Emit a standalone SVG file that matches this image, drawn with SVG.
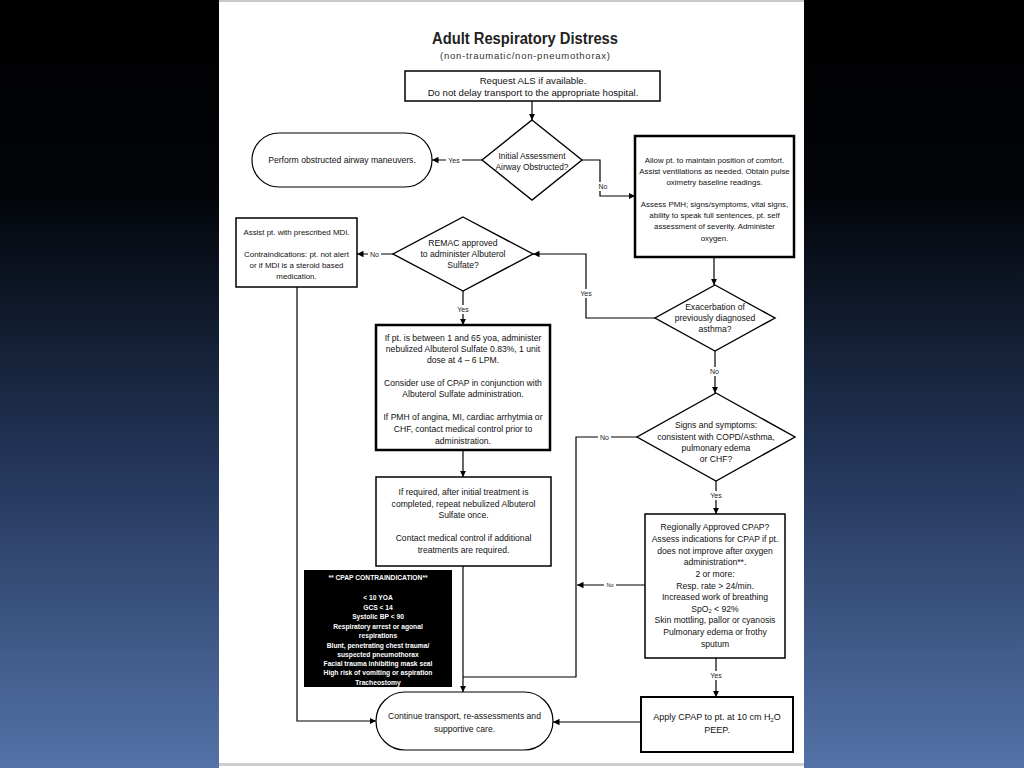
<svg xmlns="http://www.w3.org/2000/svg" width="1024" height="768" viewBox="0 0 1024 768">
<defs>
<linearGradient id="bg" x1="0" y1="0" x2="0" y2="1">
<stop offset="0" stop-color="#000000"/>
<stop offset="0.25" stop-color="#020408"/>
<stop offset="0.6" stop-color="#223558"/>
<stop offset="1" stop-color="#5472a8"/>
</linearGradient>
<marker id="ah" markerUnits="userSpaceOnUse" markerWidth="7" markerHeight="7" refX="6.5" refY="3.5" orient="auto">
<path d="M0,0.3 L6.5,3.5 L0,6.7 z" fill="#000"/>
</marker>
<style>
.t{font-family:"Liberation Sans",Arial,sans-serif;font-size:8.6px;fill:#111;text-anchor:middle}
.s{font-size:7.9px}
.b1{fill:#fff;stroke:#000;stroke-width:1.5}
.b2{fill:#fff;stroke:#000;stroke-width:2.5}
.dm{fill:#fff;stroke:#000;stroke-width:1.4}
.c{fill:none;stroke:#000;stroke-width:1.2}
.a{marker-end:url(#ah)}
.lb{font-family:"Liberation Sans",Arial,sans-serif;font-size:7px;fill:#222;text-anchor:middle}
.w{fill:#fff}
.wt{font-family:"Liberation Sans",Arial,sans-serif;font-size:6.7px;font-weight:bold;fill:#fff;text-anchor:middle}
</style>
</defs>
<rect x="0" y="0" width="1024" height="768" fill="url(#bg)"/>
<rect x="219" y="0" width="585" height="768" fill="#fff"/>
<rect x="219" y="0" width="585" height="2" fill="#c8c8c8"/>
<rect x="219" y="763" width="585" height="3" fill="#cfcfcf"/>

<g id="title">
<text x="525" y="44" style="font-family:'Liberation Sans',Arial,sans-serif;font-size:16px;font-weight:bold;fill:#222;text-anchor:middle" textLength="186" lengthAdjust="spacingAndGlyphs">Adult Respiratory Distress</text>
<text x="525" y="59" style="font-family:'Liberation Sans',Arial,sans-serif;font-size:9.5px;fill:#333;text-anchor:middle" textLength="170">(non-traumatic/non-pneumothorax)</text>
</g>

<g id="connectors">
<path class="c a" d="M532,101 V120"/>
<path class="c a" d="M482,160 H432"/>
<path class="c a" d="M582,160 H600 V196 H635"/>
<path class="c a" d="M714,257 V285"/>
<path class="c a" d="M655,318 H586 V254 H533"/>
<path class="c a" d="M393,254 H357"/>
<path class="c a" d="M463,291 V325"/>
<path class="c a" d="M463,450 V477"/>
<path class="c a" d="M463,566 V692"/>
<path class="c a" d="M297,287 V721 H376"/>
<path class="c a" d="M715,351 V393"/>
<path class="c" d="M637,437 H576 V677 H463"/>
<path class="c a" d="M645,585 H577"/>
<path class="c a" d="M716,481 V514"/>
<path class="c a" d="M716,658 V697"/>
<path class="c a" d="M641,722 H553"/>
<rect class="w" x="446" y="156" width="16" height="8"/><text class="lb" x="454" y="162.5">Yes</text>
<rect class="w" x="597" y="182" width="12" height="9"/><text class="lb" x="603" y="189">No</text>
<rect class="w" x="578" y="289" width="16" height="9"/><text class="lb" x="586" y="296">Yes</text>
<rect class="w" x="368" y="250" width="13" height="8"/><text class="lb" x="374.5" y="256.5">No</text>
<rect class="w" x="455" y="305" width="16" height="9"/><text class="lb" x="463" y="312">Yes</text>
<rect class="w" x="708" y="367" width="13" height="9"/><text class="lb" x="714.5" y="374">No</text>
<rect class="w" x="598" y="433" width="13" height="8"/><text class="lb" x="604.5" y="439.5">No</text>
<rect class="w" x="604" y="581" width="12" height="8"/><text class="lb" x="610" y="587" style="font-size:5.5px">No</text>
<rect class="w" x="708" y="491" width="16" height="9"/><text class="lb" x="716" y="498">Yes</text>
<rect class="w" x="708" y="671" width="16" height="9"/><text class="lb" x="716" y="678">Yes</text>
</g>

<g id="request-als">
<rect class="b1" x="405" y="71" width="255" height="30"/>
<text class="t" x="533" y="84" style="font-size:9.6px">Request ALS if available.</text>
<text class="t" x="533" y="96" style="font-size:9.6px">Do not delay transport to the appropriate hospital.</text>
</g>

<g id="airway-obstructed">
<polygon class="dm" points="532,120 582,160 532,200 482,160"/>
<text class="t" x="532" y="159" style="font-size:8.4px">Initial Assessment</text>
<text class="t" x="532" y="170" style="font-size:8.4px">Airway Obstructed?</text>
</g>

<g id="obstructed-maneuvers">
<rect class="b1" x="252" y="133" width="180" height="54" rx="27" style="stroke-width:1.2"/>
<text class="t" x="342" y="163">Perform obstructed airway maneuvers.</text>
</g>

<g id="position-comfort">
<rect class="b2" x="635" y="136" width="159" height="121"/>
<text class="t s" x="714.5" y="163">Allow pt. to maintain position of comfort.</text>
<text class="t s" x="714.5" y="174">Assist ventilations as needed. Obtain pulse</text>
<text class="t s" x="714.5" y="185">oximetry baseline readings.</text>
<text class="t s" x="714.5" y="207">Assess PMH; signs/symptoms, vital signs,</text>
<text class="t s" x="714.5" y="218">ability to speak full sentences, pt. self</text>
<text class="t s" x="714.5" y="229">assessment of severity.  Administer</text>
<text class="t s" x="714.5" y="241">oxygen.</text>
</g>

<g id="asthma-exacerbation">
<polygon class="dm" points="715,285 775,318 715,351 655,318"/>
<text class="t" x="715" y="310">Exacerbation of</text>
<text class="t" x="715" y="321">previously diagnosed</text>
<text class="t" x="715" y="332">asthma?</text>
</g>

<g id="remac-approved">
<polygon class="dm" points="463,217 533,254 463,291 393,254"/>
<text class="t" x="463" y="246">REMAC approved</text>
<text class="t" x="463" y="257">to administer Albuterol</text>
<text class="t" x="463" y="268">Sulfate?</text>
</g>

<g id="assist-mdi">
<rect class="b1" x="236" y="218" width="121" height="69"/>
<text class="t s" x="296.5" y="235">Assist pt. with prescribed MDI.</text>
<text class="t s" x="296.5" y="257">Contraindications: pt. not alert</text>
<text class="t s" x="296.5" y="268">or if MDI is a steroid based</text>
<text class="t s" x="296.5" y="279">medication.</text>
</g>

<g id="albuterol">
<rect class="b2" x="376" y="325" width="174" height="125"/>
<text class="t" x="463" y="341">If pt. is between 1 and 65 yoa, administer</text>
<text class="t" x="463" y="352">nebulized Albuterol Sulfate 0.83%, 1 unit</text>
<text class="t" x="463" y="363">dose at 4 – 6 LPM.</text>
<text class="t" x="463" y="386">Consider use of CPAP in conjunction with</text>
<text class="t" x="463" y="397">Albuterol Sulfate administration.</text>
<text class="t" x="463" y="420">If PMH of angina, MI, cardiac arrhytmia or</text>
<text class="t" x="463" y="432">CHF, contact medical control prior to</text>
<text class="t" x="463" y="444">administration.</text>
</g>

<g id="repeat-albuterol">
<rect class="b1" x="376" y="477" width="175" height="89"/>
<text class="t" x="463.5" y="495">If required, after initial treatment is</text>
<text class="t" x="463.5" y="507">completed, repeat nebulized Albuterol</text>
<text class="t" x="463.5" y="518">Sulfate once.</text>
<text class="t" x="463.5" y="541">Contact medical control if additional</text>
<text class="t" x="463.5" y="553">treatments are required.</text>
</g>

<g id="cpap-contraindication">
<rect x="304" y="570" width="148" height="117" fill="#000"/>
<text class="wt" x="378" y="580">** CPAP CONTRAINDICATION**</text>
<text class="wt" x="378" y="600">&lt; 10 YOA</text>
<text class="wt" x="378" y="609.5">GCS &lt; 14</text>
<text class="wt" x="378" y="619">Systolic BP &lt; 90</text>
<text class="wt" x="378" y="628.5">Respiratory arrest or agonal</text>
<text class="wt" x="378" y="638">respirations</text>
<text class="wt" x="378" y="647.5">Blunt, penetrating chest trauma/</text>
<text class="wt" x="378" y="657">suspected pneumothorax</text>
<text class="wt" x="378" y="666">Facial trauma inhibiting mask seal</text>
<text class="wt" x="378" y="675">High risk of vomiting or aspiration</text>
<text class="wt" x="378" y="684.5">Tracheostomy</text>
</g>

<g id="copd-chf">
<polygon class="dm" points="716,393 795,437 716,481 637,437"/>
<text class="t" x="716" y="428">Signs and symptoms:</text>
<text class="t" x="716" y="439.5">consistent with COPD/Asthma,</text>
<text class="t" x="716" y="451">pulmonary edema</text>
<text class="t" x="716" y="462">or CHF?</text>
</g>

<g id="regional-cpap">
<rect class="b1" x="645" y="514" width="140" height="144"/>
<text class="t" x="715" y="530">Regionally Approved CPAP?</text>
<text class="t" x="715" y="542">Assess indications for CPAP if pt.</text>
<text class="t" x="715" y="553.5">does not improve after oxygen</text>
<text class="t" x="715" y="565">administration**.</text>
<text class="t" x="715" y="577">2 or more:</text>
<text class="t" x="715" y="589">Resp. rate &gt; 24/min.</text>
<text class="t" x="715" y="600">Increased work of breathing</text>
<text class="t" x="715" y="611.5">SpO<tspan style="font-size:5.5px" dy="1.5">2</tspan><tspan dy="-1.5"> &lt; 92%</tspan></text>
<text class="t" x="715" y="623">Skin mottling, pallor or cyanosis</text>
<text class="t" x="715" y="635">Pulmonary edema or frothy</text>
<text class="t" x="715" y="647">sputum</text>
</g>

<g id="continue-transport">
<rect class="b1" x="376" y="692" width="177" height="58" rx="29" style="stroke-width:1.2"/>
<text class="t" x="464.5" y="719">Continue transport, re-assessments and</text>
<text class="t" x="464.5" y="732">supportive care.</text>
</g>

<g id="apply-cpap">
<rect class="b2" x="641" y="697" width="152" height="55" style="stroke-width:2"/>
<text class="t" x="717" y="720" style="font-size:9px">Apply CPAP to pt. at 10 cm H<tspan style="font-size:5.5px" dy="1.5">2</tspan><tspan dy="-1.5">O</tspan></text>
<text class="t" x="717" y="733" style="font-size:9px">PEEP.</text>
</g>
</svg>
